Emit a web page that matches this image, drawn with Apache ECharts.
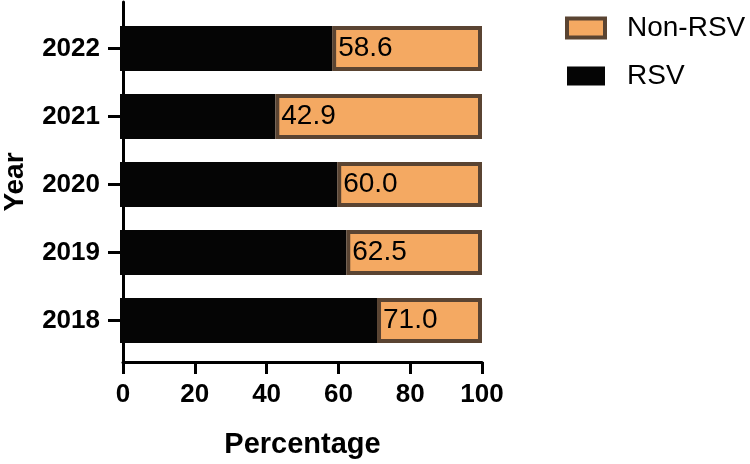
<!DOCTYPE html>
<html>
<head>
<meta charset="utf-8">
<script src="https://cdn.jsdelivr.net/npm/echarts@6/dist/echarts.min.js"></script>
<style>
html,body{margin:0;padding:0;background:#fff;}
#chart{width:750px;height:464px;}
</style>
</head>
<body>
<div id="chart"></div>
<script>
var years = ['2018', '2019', '2020', '2021', '2022'];
var rsv = [71.0, 62.5, 60.0, 42.9, 58.6];
var nonRsv = [29.0, 37.5, 40.0, 57.1, 41.4];
var xTicks = [0, 20, 40, 60, 80, 100];

var FONT = 'Liberation Sans, Arial, sans-serif';
var ORANGE = '#F4A962', BROWN = '#5A4432', BLACK = '#050505';
var chart = echarts.init(document.getElementById('chart'), null, {renderer: 'canvas'});
var option = {
  backgroundColor: '#ffffff',
  animation: false,
  textStyle: {fontFamily: FONT, color: '#000'},
  legend: {
    orient: 'vertical',
    left: 565,
    top: 14,
    padding: 0,
    icon: 'rect',
    itemWidth: 38,
    itemHeight: 19,
    itemGap: 20,
    data: [
      {name: 'Non-RSV', itemStyle: {color: ORANGE, borderColor: BROWN, borderWidth: 4}},
      {name: 'RSV', itemStyle: {color: BLACK}}
    ],
    textStyle: {fontFamily: FONT, fontSize: 28, color: '#000', padding: [0, 0, 0, 17]}
  },
  grid: [
    {left: 120, width: 362, top: 2, height: 366},
    {left: 120, width: 362, top: 14.5, height: 340}
  ],
  xAxis: [
    {
      type: 'value', gridIndex: 0, min: xTicks[0], max: xTicks[xTicks.length - 1], interval: 20,
      name: 'Percentage', nameLocation: 'middle', nameGap: 68,
      nameTextStyle: {fontFamily: FONT, fontSize: 29, fontWeight: 'bold', color: '#000'},
      axisLine: {show: true, lineStyle: {color: '#000', width: 3}},
      axisTick: {show: true, length: 12, lineStyle: {color: '#000', width: 3}},
      axisLabel: {fontFamily: FONT, fontSize: 26, fontWeight: 'bold', color: '#000', margin: 20},
      splitLine: {show: false}
    },
    {
      type: 'value', gridIndex: 1, min: 0, max: 100, show: false
    }
  ],
  yAxis: [
    {
      type: 'value', gridIndex: 0, min: 0, max: 1,
      name: 'Year', nameLocation: 'middle', nameGap: 94, nameRotate: 90,
      nameTextStyle: {fontFamily: FONT, fontSize: 28, fontWeight: 'bold', color: '#000'},
      axisLine: {show: true, lineStyle: {color: '#000', width: 3}},
      axisTick: {show: false},
      axisLabel: {show: false},
      splitLine: {show: false}
    },
    {
      type: 'category', gridIndex: 1, data: years,
      axisLine: {show: false},
      axisTick: {show: true, length: 12, alignWithLabel: true, lineStyle: {color: '#000', width: 3}},
      axisLabel: {fontFamily: FONT, fontSize: 26, fontWeight: 'bold', color: '#000', margin: 20},
      splitLine: {show: false}
    }
  ],
  series: [
    {
      name: 'RSV', type: 'bar', stack: 'total', xAxisIndex: 1, yAxisIndex: 1,
      barWidth: 45,
      itemStyle: {color: BLACK},
      data: rsv
    },
    {
      name: 'Non-RSV', type: 'bar', stack: 'total', xAxisIndex: 1, yAxisIndex: 1,
      barWidth: 45,
      itemStyle: {color: ORANGE, borderColor: BROWN, borderWidth: 4},
      label: {
        show: true, position: 'insideLeft', distance: 6,
        fontFamily: FONT, fontSize: 28, color: '#000',
        formatter: function (p) { return rsv[p.dataIndex].toFixed(1); }
      },
      data: nonRsv
    }
  ]
};
chart.setOption(option);
</script>
</body>
</html>
